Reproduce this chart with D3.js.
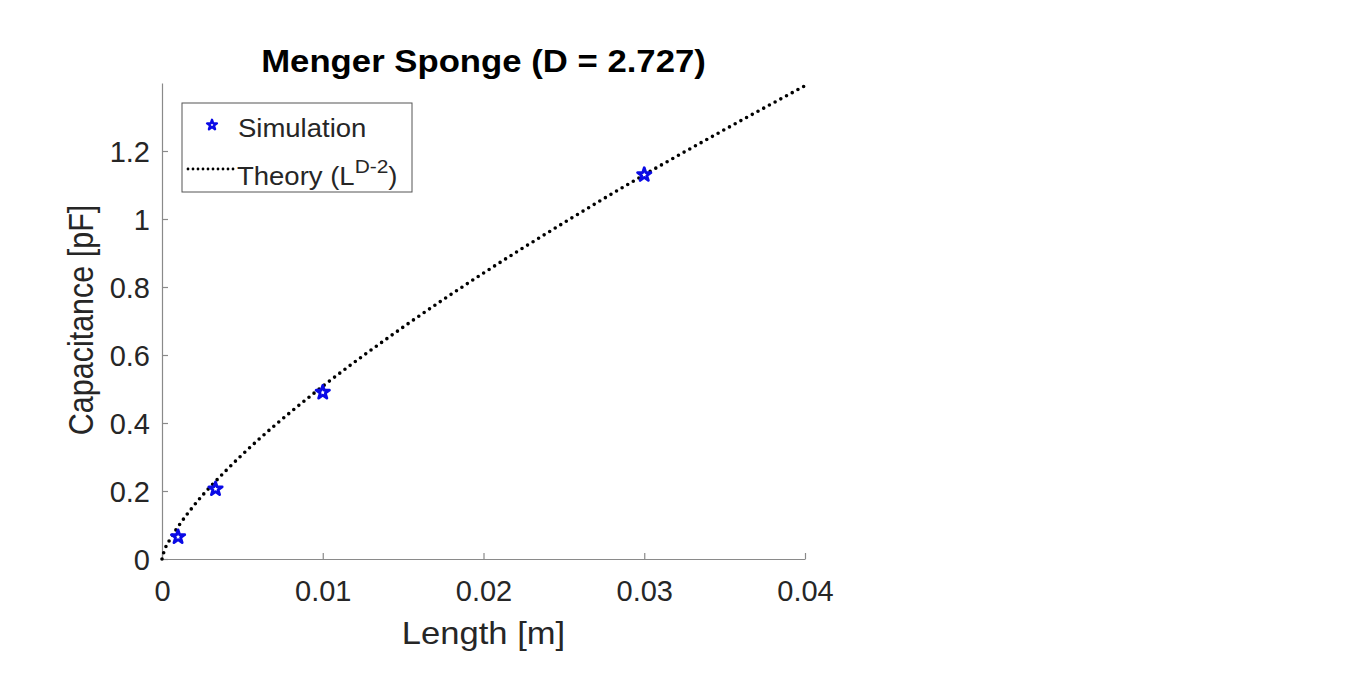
<!DOCTYPE html>
<html>
<head>
<meta charset="utf-8">
<script src="https://d3js.org/d3.v7.min.js"></script>
<style>
  body { margin: 0; background: #fff; }
  text { font-family: "Liberation Sans", Arial, sans-serif; fill: #262626; }
</style>
</head>
<body>
<div id="chart"></div>
<script>
  const width = 1366
  const height = 673

  // simulation points
  const simLength = [0.001, 0.00333, 0.01, 0.03]
  const simCap = [0.065, 0.206, 0.49, 1.13]

  // theory curve
  const theoryLength = [0, 0.0001, 0.0005, 0.001, 0.002, 0.004, 0.006, 0.008, 0.01, 0.015, 0.02, 0.025, 0.03, 0.035, 0.04]
  const theoryCap = [0, 0.018, 0.058, 0.095, 0.158, 0.261, 0.351, 0.432, 0.508, 0.682, 0.841, 0.989, 1.13, 1.263, 1.392]

  const xTicks = [0, 0.01, 0.02, 0.03, 0.04]
  const yTicks = [0, 0.2, 0.4, 0.6, 0.8, 1, 1.2]

  const margin = { left: 162, right: 561, top: 83, bottom: 114 }
  const font = "'Liberation Sans', Arial, sans-serif"

  const x = d3.scaleLinear().domain([0, 0.04]).range([margin.left, width - margin.right])
  const y = d3.scaleLinear().domain([0, 1.4]).range([height - margin.bottom, margin.top])

  const svg = d3.select("#chart").append("svg")
    .attr("width", width).attr("height", height)

  const xAxis = d3.axisBottom(x).tickValues(xTicks).tickSizeInner(-6).tickSizeOuter(0)
    .tickPadding(21).tickFormat(d => d === 0 ? "0" : d3.format(".2f")(d))
  const yAxis = d3.axisLeft(y).tickValues(yTicks).tickSizeInner(-6).tickSizeOuter(0)
    .tickPadding(12).tickFormat(d => String(+d.toFixed(1)))

  const gx = svg.append("g")
    .attr("transform", "translate(0," + (height - margin.bottom) + ")")
    .call(xAxis)
  const gy = svg.append("g")
    .attr("transform", "translate(" + margin.left + ",0)")
    .call(yAxis)

  for (const g of [gx, gy]) {
    g.select(".domain").attr("stroke", "#8a8a8a").attr("stroke-width", 1.2)
    g.selectAll(".tick line").attr("stroke", "#8a8a8a").attr("stroke-width", 1.2)
    g.selectAll(".tick text").attr("font-size", 29).attr("fill", "#262626")
      .style("font-family", font)
  }
  gy.selectAll(".tick text").attr("dy", "0.35em")

  // theory line
  const line = d3.line()
    .x((d, i) => x(theoryLength[i]))
    .y(d => y(d))
    .curve(d3.curveMonotoneX)

  svg.append("path")
    .datum(theoryCap)
    .attr("d", line)
    .attr("fill", "none")
    .attr("stroke", "#000")
    .attr("stroke-width", 3.6)
    .attr("stroke-linecap", "round")
    .attr("stroke-dasharray", "0 6.5")

  const star = d3.symbol().type(d3.symbolStar).size(55)

  svg.selectAll(".sim")
    .data(simCap)
    .enter()
    .append("path")
    .attr("class", "sim")
    .attr("d", star)
    .attr("transform", (d, i) => "translate(" + x(simLength[i]) + "," + y(d) + ")")
    .attr("fill", "#fff")
    .attr("stroke", "#0a0ae6")
    .attr("stroke-width", 2.8)
    .attr("stroke-linejoin", "round")

  // title and labels
  const cx = (x(0) + x(0.04)) / 2
  svg.append("text")
    .attr("transform", "translate(" + cx + ",72) scale(1.12,1)")
    .attr("text-anchor", "middle")
    .attr("font-size", 31)
    .attr("font-weight", "bold")
    .style("fill", "#000")
    .text("Menger Sponge (D = 2.727)")

  svg.append("text")
    .attr("transform", "translate(" + cx + ",644) scale(1.08,1)")
    .attr("text-anchor", "middle")
    .attr("font-size", 32)
    .text("Length [m]")

  svg.append("text")
    .attr("transform", "translate(93,320) rotate(-90) scale(1,1.12)")
    .attr("text-anchor", "middle")
    .attr("font-size", 30.5)
    .text("Capacitance [pF]")

  // legend
  const legend = svg.append("g").attr("transform", "translate(182,103)")
  legend.append("rect")
    .attr("width", 230).attr("height", 89)
    .attr("fill", "#fff").attr("stroke", "#555").attr("stroke-width", 1)

  legend.append("path")
    .attr("d", d3.symbol().type(d3.symbolStar).size(30))
    .attr("transform", "translate(30,22)")
    .attr("fill", "#fff").attr("stroke", "#0a0ae6").attr("stroke-width", 2.4)
    .attr("stroke-linejoin", "round")
  legend.append("text")
    .attr("transform", "translate(56,34) scale(1.1,1)")
    .attr("font-size", 25)
    .text("Simulation")

  legend.append("line")
    .attr("x1", 6).attr("x2", 52).attr("y1", 66).attr("y2", 66)
    .attr("stroke", "#000").attr("stroke-width", 2.8)
    .attr("stroke-linecap", "round").attr("stroke-dasharray", "0 5")
  const theoryText = legend.append("text")
    .attr("transform", "translate(55,82) scale(1.1,1)")
    .attr("font-size", 25)
  theoryText.append("tspan").text("Theory (L")
  theoryText.append("tspan").attr("dy", -12).attr("font-size", 19).text("D-2")
  theoryText.append("tspan").attr("dy", 12).text(")")
</script>
</body>
</html>
